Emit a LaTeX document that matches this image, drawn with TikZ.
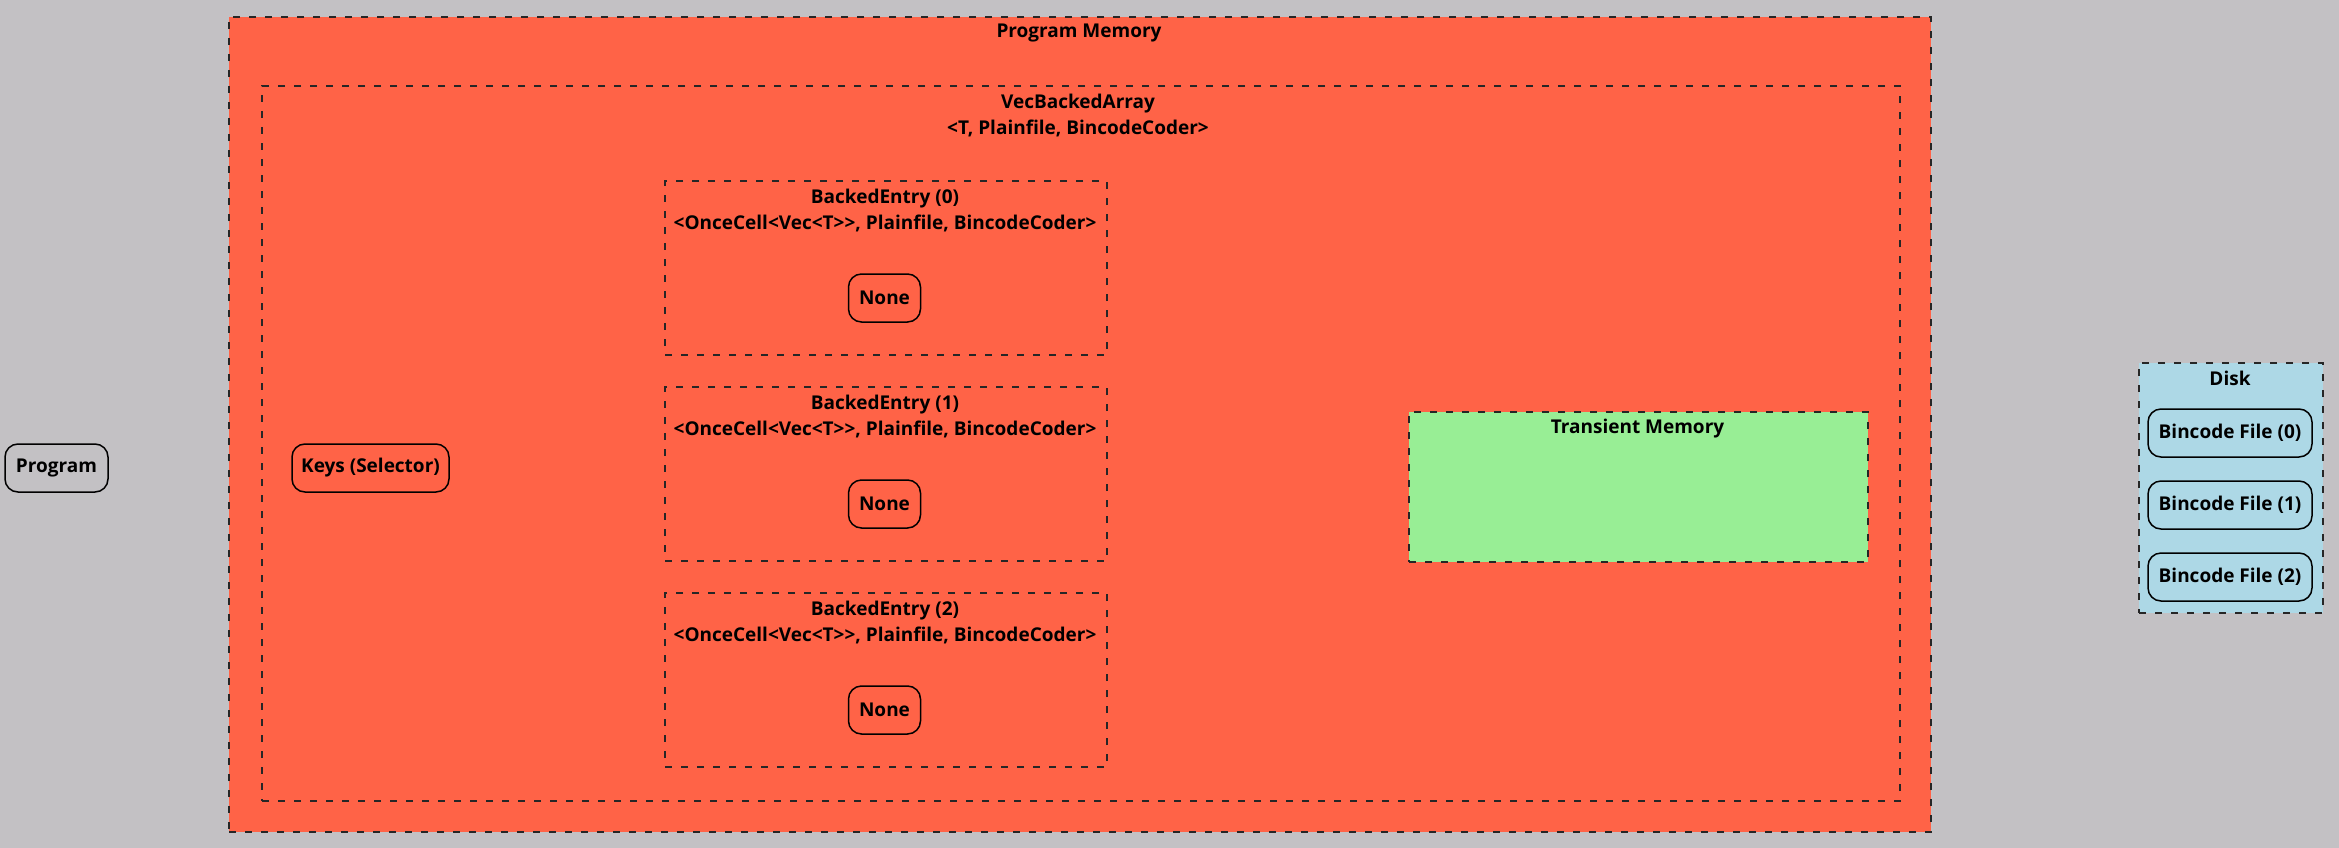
\documentclass[tikz,border=0pt]{standalone}
\usepackage{fontspec}
\setmainfont{Open Sans}[Ligatures=TeXOff]
\definecolor{bgc}{RGB}{195,193,196}
\definecolor{tomatoc}{RGB}{255,99,71}
\definecolor{greenc}{RGB}{152,238,149}
\definecolor{bluec}{RGB}{173,216,230}
\begin{document}
\begin{tikzpicture}[x=1pt,y=-1pt,
  every node/.style={font=\fontsize{19}{26}\selectfont\bfseries},
  cluster/.style={draw=black!85, line width=2pt, dash pattern=on 7pt off 9pt, inner sep=0pt, anchor=north west},
  pill/.style={draw=black, line width=1.5pt, rounded corners=13pt, inner sep=0pt},
  ttl/.style={inner sep=0pt, align=center}
]
\fill[bgc] (0,0) rectangle (2339,848);
\useasboundingbox (0,0) rectangle (2339,848);

% Program
\node[pill, minimum width=103pt, minimum height=48pt] (program) at (56.5,468) {Program};

% Program Memory
\node[cluster, fill=tomatoc, minimum width=1702pt, minimum height=815pt] (pm) at (228,16) {};
\node[ttl] (pmt) at (1079,33) {Program Memory};

% VecBackedArray
\node[cluster, minimum width=1638pt, minimum height=715pt] (vba) at (261,85) {};
\node[ttl] (vbat) at (1078,116) {VecBackedArray\\ \textless T, Plainfile, BincodeCoder\textgreater};

\node[pill, minimum width=157pt, minimum height=48pt] (keys) at (370.5,468) {Keys (Selector)};

% Backed entries
\foreach \i/\y in {0/180,1/386,2/592}{
  \node[cluster, minimum width=442pt, minimum height=174pt] (be\i) at (664,\y) {};
  \node[ttl] (be\i t) at (885,\y+31) {BackedEntry (\i)\\ \textless OnceCell\textless Vec\textless T\textgreater\textgreater, Plainfile, BincodeCoder\textgreater};
  \node[pill, minimum width=72pt, minimum height=48pt] (none\i) at (884.5,\y+118) {None};
}

% Transient Memory
\node[cluster, fill=greenc, minimum width=459pt, minimum height=150pt] (tm) at (1408,411) {};
\node[ttl] (tmt) at (1637.5,429) {Transient Memory};

% Disk
\node[cluster, fill=bluec, minimum width=184pt, minimum height=250pt] (disk) at (2138,362) {};
\node[ttl] (diskt) at (2230,378) {Disk};
\foreach \i/\y in {0/433,1/505,2/577}{
  \node[pill, minimum width=164pt, minimum height=48pt] (bf\i) at (2230,\y) {Bincode File (\i)};
}
\end{tikzpicture}
\end{document}
